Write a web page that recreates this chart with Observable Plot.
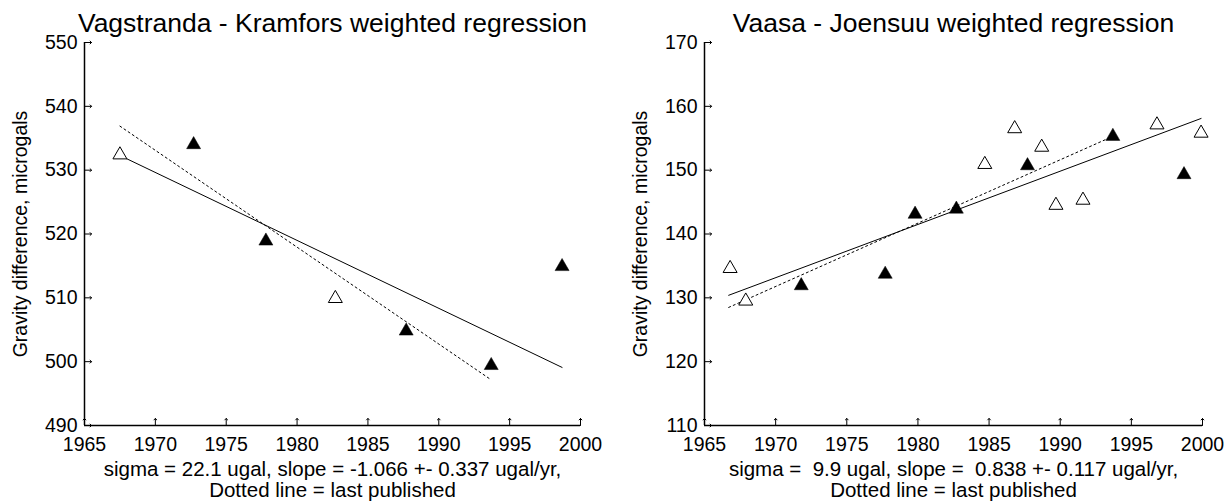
<!DOCTYPE html>
<html><head><meta charset="utf-8">
<script src="https://cdn.jsdelivr.net/npm/d3@7"></script>
<script src="https://cdn.jsdelivr.net/npm/@observablehq/plot@0.6"></script>
<style>
html,body{margin:0;padding:0;background:#fff;}
#wrap{display:flex;width:1229px;height:502px;}
svg{display:block}
svg text{white-space:pre}
</style></head><body><div id="wrap"></div>
<script>
const xTicks = [1965, 1970, 1975, 1980, 1985, 1990, 1995, 2000];
const yLabel = "Gravity difference, microgals";

// Left panel: Vagstranda - Kramfors
const leftTitle = "Vagstranda - Kramfors weighted regression";
const leftYTicks = [490, 500, 510, 520, 530, 540, 550];
const leftOpenYear = [1967.5, 1982.7];
const leftOpenValue = [532.4, 509.9];
const leftFilledYear = [1972.7, 1977.8, 1987.7, 1993.7, 1998.7];
const leftFilledValue = [534.0, 518.9, 504.8, 499.4, 514.9];
const leftFitYear = [1967.5, 1998.7];
const leftFitValue = [532.3, 499.1];
const leftPubYear = [1967.5, 1993.6];
const leftPubValue = [536.9, 497.3];
const leftCaption = ["sigma = 22.1 ugal, slope = -1.066 +- 0.337 ugal/yr,", "Dotted line = last published"];

// Right panel: Vaasa - Joensuu
const rightTitle = "Vaasa - Joensuu weighted regression";
const rightYTicks = [110, 120, 130, 140, 150, 160, 170];
const rightOpenYear = [1966.8, 1967.9, 1984.7, 1986.8, 1988.7, 1989.7, 1991.6, 1996.8, 1999.9];
const rightOpenValue = [134.6, 129.5, 150.9, 156.5, 153.6, 144.5, 145.3, 157.1, 155.8];
const rightFilledYear = [1971.8, 1977.7, 1979.8, 1982.7, 1987.7, 1993.7, 1998.7];
const rightFilledValue = [131.9, 133.7, 143.1, 143.9, 150.7, 155.3, 149.3];
const rightFitYear = [1966.7, 1999.9];
const rightFitValue = [130.4, 158.1];
const rightPubYear = [1966.7, 1993.6];
const rightPubValue = [128.5, 155.2];
const rightCaption = ["sigma =  9.9 ugal, slope =  0.838 +- 0.117 ugal/yr,", "Dotted line = last published"];

const zip = (a, b) => a.map((v, i) => ({x: v, y: b[i]}));
const FONT = '"Liberation Sans", Arial, Helvetica, sans-serif';

function panel(o) {
  return Plot.plot({
    width: o.width, height: 502,
    marginLeft: o.marginLeft, marginRight: o.marginRight, marginTop: 42, marginBottom: 77,
    style: {fontFamily: FONT, background: "#fff", color: "#000", overflow: "visible"},
    x: {domain: [1965, 2000]},
    y: {domain: [o.yTicks[0], o.yTicks[o.yTicks.length - 1]]},
    marks: [
      Plot.axisX(xTicks, {tickSize: 0, tickPadding: 12, tickFormat: d => String(d), fontSize: 19.5, label: null, fill: "#000"}),
      Plot.axisY(o.yTicks, {tickSize: 0, tickPadding: 7, tickFormat: d => String(d), fontSize: 19.5, label: null, fill: "#000"}),
      Plot.vector(xTicks, {x: d => d, frameAnchor: "bottom", length: 7, anchor: "start", stroke: "#000", strokeWidth: 1}),
      Plot.vector(o.yTicks, {y: d => d, frameAnchor: "left", length: 7, rotate: 90, anchor: "start", stroke: "#000", strokeWidth: 1}),
      Plot.ruleY([o.yTicks[0]], {stroke: "#000", strokeWidth: 1.5}),
      Plot.ruleX([1965], {stroke: "#000", strokeWidth: 1.5}),
      Plot.line(zip(o.pubYear, o.pubValue), {x: "x", y: "y", stroke: "#000", strokeWidth: 1, strokeDasharray: "2,3"}),
      Plot.line(zip(o.fitYear, o.fitValue), {x: "x", y: "y", stroke: "#000", strokeWidth: 1}),
      Plot.dot(zip(o.openYear, o.openValue), {x: "x", y: "y", symbol: "triangle", r: 5.2, fill: "#fff", stroke: "#000", strokeWidth: 1}),
      Plot.dot(zip(o.filledYear, o.filledValue), {x: "x", y: "y", symbol: "triangle", r: 5.2, fill: "#000", stroke: "#000", strokeWidth: 0.5}),
      Plot.text([o.title], {text: d => d, frameAnchor: "top", lineAnchor: "middle", dy: -19, fontSize: 26.5, fill: "#000"}),
      Plot.text([o.caption[0]], {text: d => d, frameAnchor: "bottom", lineAnchor: "middle", dy: 43.5, fontSize: 20.5, fill: "#000"}),
      Plot.text([o.caption[1]], {text: d => d, frameAnchor: "bottom", lineAnchor: "middle", dy: 64.5, fontSize: 20.5, fill: "#000"}),
      Plot.text([yLabel], {text: d => d, frameAnchor: "left", textAnchor: "middle", lineAnchor: "middle", dx: -64, rotate: -90, fontSize: 19.5, fill: "#000"})
    ]
  });
}

const wrap = document.getElementById("wrap");
wrap.appendChild(panel({
  width: 614, marginLeft: 84, marginRight: 34, yTicks: leftYTicks, title: leftTitle,
  openYear: leftOpenYear, openValue: leftOpenValue, filledYear: leftFilledYear, filledValue: leftFilledValue,
  fitYear: leftFitYear, fitValue: leftFitValue, pubYear: leftPubYear, pubValue: leftPubValue, caption: leftCaption
}));
wrap.appendChild(panel({
  width: 615, marginLeft: 90, marginRight: 27, yTicks: rightYTicks, title: rightTitle,
  openYear: rightOpenYear, openValue: rightOpenValue, filledYear: rightFilledYear, filledValue: rightFilledValue,
  fitYear: rightFitYear, fitValue: rightFitValue, pubYear: rightPubYear, pubValue: rightPubValue, caption: rightCaption
}));
</script>
</body></html>
